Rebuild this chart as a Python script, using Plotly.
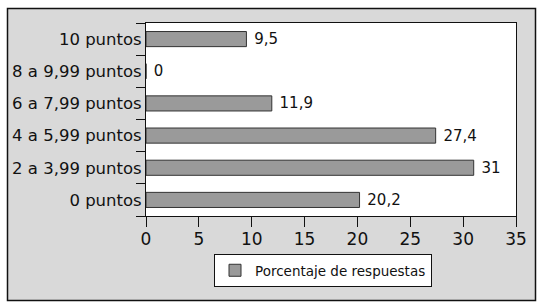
import plotly.graph_objects as go

categories = ["0 puntos", "2 a 3,99 puntos", "4 a 5,99 puntos", "6 a 7,99 puntos", "8 a 9,99 puntos", "10 puntos"]
values = [20.2, 31, 27.4, 11.9, 0, 9.5]
series_name = "Porcentaje de respuestas"
x_ticks = [0, 5, 10, 15, 20, 25, 30, 35]

labels = [("%g" % v).replace(".", ",") for v in values]

W, H = 540, 305
L, R, T, B = 146, 24, 23, 89
pw, ph = W - L - R, H - T - B

def px_x(p):
    return (p - L) / pw

def px_y(p):
    return (H - B - p) / ph

font = "DejaVu Sans"

fig = go.Figure()
fig.add_trace(go.Bar(
    y=categories, x=values, orientation="h", name=series_name,
    marker=dict(color="#9a9a9a", line=dict(color="#333333", width=1)),
    text=labels, texttemplate="\u00a0%{text}",
    textposition="outside", cliponaxis=False, constraintext="none",
    textfont=dict(size=15, color="#111111", family=font),
    showlegend=True,
))

fig.update_layout(
    width=W, height=H,
    margin=dict(l=L, r=R, t=T, b=B, autoexpand=False),
    paper_bgcolor="white", plot_bgcolor="white",
    bargap=0.53,
    font=dict(family=font, size=15, color="#111111"),
    showlegend=True,
    legend=dict(
        orientation="h", xref="container", yref="container",
        x=214 / W, y=1 - 254 / H, xanchor="left", yanchor="top",
        bgcolor="white", bordercolor="#111111", borderwidth=1,
        font=dict(size=13.5, family=font),
    ),
    shapes=[
        dict(
            type="rect", xref="paper", yref="paper",
            x0=px_x(7.5), x1=px_x(535.5), y0=px_y(300.5), y1=px_y(8.5),
            fillcolor="#d9d9d9", line=dict(color="#111111", width=1.5), layer="below",
        ),
        dict(
            type="rect", xref="paper", yref="paper",
            x0=0, x1=1, y0=0, y1=1,
            fillcolor="white", line=dict(width=0), layer="below",
        ),
    ],
)

fig.update_xaxes(
    range=[0, 35], tickvals=x_ticks, ticktext=[str(t) for t in x_ticks],
    showgrid=False, zeroline=False, showline=True, linecolor="#111111", linewidth=1, mirror=True,
    ticks="outside", ticklen=10, tickcolor="#111111", automargin=False,
    ticklabelstandoff=-2,
    tickfont=dict(size=17, family=font),
)
fig.update_yaxes(
    categoryorder="array", categoryarray=categories,
    showgrid=False, showline=True, linecolor="#111111", linewidth=1, mirror=True,
    ticks="outside", ticklen=9, tickcolor="#111111", tickson="boundaries", automargin=False,
    tickfont=dict(size=16.5, family=font),
)

fig.write_html("out.html", config={"displayModeBar": False},
               post_script="document.body.style.margin='0';")
